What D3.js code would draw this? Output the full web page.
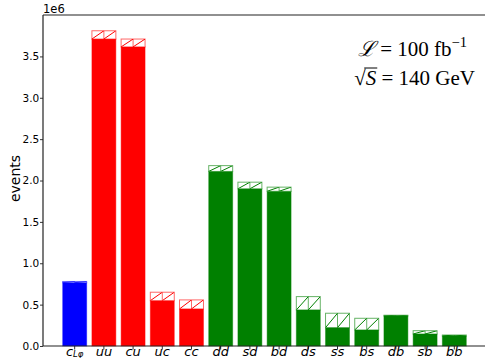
<!DOCTYPE html>
<html>
<head>
<meta charset="utf-8">
<script src="https://cdn.jsdelivr.net/npm/d3@7"></script>
<style>
  body { margin: 0; background: #fff; }
  svg { display: block; }
</style>
</head>
<body>
<svg id="chart" width="485" height="358"></svg>
<script>
// Event counts per channel: solid part and full height (hatched band on top)
const categories = ["c_Lφ", "uu", "cu", "uc", "cc", "dd", "sd", "bd", "ds", "ss", "bs", "db", "sb", "bb"];
const solidValues = [0.765e6, 3.71e6, 3.615e6, 0.548e6, 0.448e6, 2.11e6, 1.90e6, 1.87e6, 0.436e6, 0.222e6, 0.194e6, 0.363e6, 0.145e6, 0.121e6];
const totalValues = [0.780e6, 3.81e6, 3.71e6, 0.650e6, 0.557e6, 2.18e6, 1.98e6, 1.92e6, 0.597e6, 0.396e6, 0.335e6, 0.372e6, 0.185e6, 0.133e6];
const groupOf = ["lphi", "up", "up", "up", "up", "down", "down", "down", "down", "down", "down", "down", "down", "down"];
const groupColors = { lphi: "#0000ff", up: "#ff0000", down: "#008000" };
const yTickValues = [0, 0.5e6, 1.0e6, 1.5e6, 2.0e6, 2.5e6, 3.0e6, 3.5e6];
const yAxisLabel = "events";
const yOffsetLabel = "1e6";

const svg = d3.select("#chart");
const mLeft = 43, mTop = 15, mRight = 486, mBottom = 346;

const x = d3.scaleBand()
  .domain(categories)
  .range([mLeft, mRight])
  .paddingInner(0.18)
  .paddingOuter(0.675);

const y = d3.scaleLinear()
  .domain([0, d3.max(totalValues) * 1.05])
  .range([mBottom, mTop]);

const rows = categories.map((c, i) => ({
  cat: c, solid: solidValues[i], total: totalValues[i], color: groupColors[groupOf[i]]
}));

// Clip paths for hatched bands
const defs = svg.append("defs");
rows.forEach((d, i) => {
  defs.append("clipPath").attr("id", "hc" + i)
    .append("rect")
    .attr("x", x(d.cat)).attr("y", y(d.total))
    .attr("width", x.bandwidth()).attr("height", y(d.solid) - y(d.total));
});

const bars = svg.append("g");

// Solid bars
bars.selectAll("rect.solid").data(rows).join("rect")
  .attr("class", "solid")
  .attr("x", d => x(d.cat))
  .attr("y", d => y(d.solid))
  .attr("width", x.bandwidth())
  .attr("height", d => y(0) - y(d.solid))
  .attr("fill", d => d.color)
  .attr("stroke", d => d.color)
  .attr("stroke-opacity", 0.45)
  .attr("stroke-width", 1);

// Hatched bands on top
const hatch = bars.selectAll("g.hatch").data(rows).join("g")
  .attr("class", "hatch");

hatch.append("rect")
  .attr("x", d => x(d.cat))
  .attr("y", d => y(d.total))
  .attr("width", x.bandwidth())
  .attr("height", d => y(d.solid) - y(d.total))
  .attr("fill", "#fff")
  .attr("stroke", d => d.color)
  .attr("stroke-opacity", 0.6)
  .attr("stroke-width", 1);

hatch.each(function (d, i) {
  const g = d3.select(this).append("g").attr("clip-path", `url(#hc${i})`);
  const x0 = x(d.cat), w = x.bandwidth(), half = w / 2;
  const yt = y(d.total), yb = y(d.solid);
  [0, 1].forEach(k => {
    g.append("line")
      .attr("x1", x0 + k * half).attr("y1", yb)
      .attr("x2", x0 + (k + 1) * half).attr("y2", yt)
      .attr("stroke", d.color).attr("stroke-width", 1);
  });
  g.append("line")
    .attr("x1", x0 + half).attr("x2", x0 + half)
    .attr("y1", yt).attr("y2", yb)
    .attr("stroke", d.color).attr("stroke-width", 1).attr("stroke-opacity", 0.6);
});

// Axes
const yAxis = d3.axisLeft(y).tickValues(yTickValues)
  .tickFormat(d => (d / 1e6).toFixed(1)).tickSize(3).tickPadding(0.8);
const gy = svg.append("g").attr("transform", `translate(${mLeft},0)`).call(yAxis);
gy.select(".domain").remove();
gy.selectAll("text").attr("font-family", "DejaVu Sans").attr("font-size", 10.5).attr("fill", "#000");
gy.selectAll("line").attr("stroke", "#000").attr("stroke-width", 0.8);

const xAxis = d3.axisBottom(x).tickSize(3.5).tickFormat("");
const gx = svg.append("g").attr("transform", `translate(0,${mBottom})`).call(xAxis);
gx.select(".domain").remove();
gx.selectAll("line").attr("stroke", "#000").attr("stroke-width", 0.8);

// Category labels (math italic, optional subscript)
const xl = svg.append("g").attr("font-family", "DejaVu Sans").attr("font-style", "italic")
  .attr("font-size", 13).attr("fill", "#000");
categories.forEach(c => {
  const [main, sub] = c.split("_");
  const t = xl.append("text")
    .attr("x", x(c) + x.bandwidth() / 2).attr("y", 355.5)
    .attr("text-anchor", "middle");
  t.append("tspan").text(main);
  if (sub) t.append("tspan").attr("font-size", 8.5).attr("dy", 1).text(sub);
});

// Spines
svg.append("g").attr("stroke", "#222").attr("stroke-width", 1.2).attr("fill", "none")
  .selectAll("line").data([
    [mLeft, mTop, mLeft, mBottom],
    [mLeft, mBottom, mRight, mBottom],
    [mLeft, mTop, mRight, mTop],
    [mRight, mTop, mRight, mBottom]
  ]).join("line")
  .attr("x1", d => d[0]).attr("y1", d => d[1]).attr("x2", d => d[2]).attr("y2", d => d[3]);

// Offset label and y title
svg.append("text").attr("x", mLeft).attr("y", 13)
  .attr("font-family", "DejaVu Sans").attr("font-size", 11.5).text(yOffsetLabel);

svg.append("text")
  .attr("transform", `translate(20,178.5) rotate(-90)`)
  .attr("text-anchor", "middle")
  .attr("font-family", "DejaVu Sans").attr("font-size", 14).text(yAxisLabel);

// Luminosity / energy annotation
const ann = svg.append("g").attr("font-family", "Liberation Serif").attr("font-size", 21).attr("fill", "#000");
const l1 = ann.append("text").attr("x", 467).attr("y", 56).attr("text-anchor", "end");
l1.append("tspan").attr("font-family", "DejaVu Serif").attr("font-style", "italic").text("ℒ");
l1.append("tspan").text(" = 100 fb");
l1.append("tspan").attr("font-size", 14.5).attr("dy", -9).text("−1");

const l2 = ann.append("text").attr("x", 475).attr("y", 85).attr("text-anchor", "end");
l2.append("tspan").text("√");
l2.append("tspan").attr("font-style", "italic").text("S");
l2.append("tspan").text(" = 140 GeV");
const tEl = l2.node();
const sEnd = tEl.getEndPositionOfChar(1).x;
const rootStart = tEl.getStartPositionOfChar(0).x;
ann.append("line")
  .attr("x1", rootStart + 10).attr("x2", sEnd + 1)
  .attr("y1", 85 - 17).attr("y2", 85 - 17)
  .attr("stroke", "#000").attr("stroke-width", 1);
</script>
</body>
</html>
